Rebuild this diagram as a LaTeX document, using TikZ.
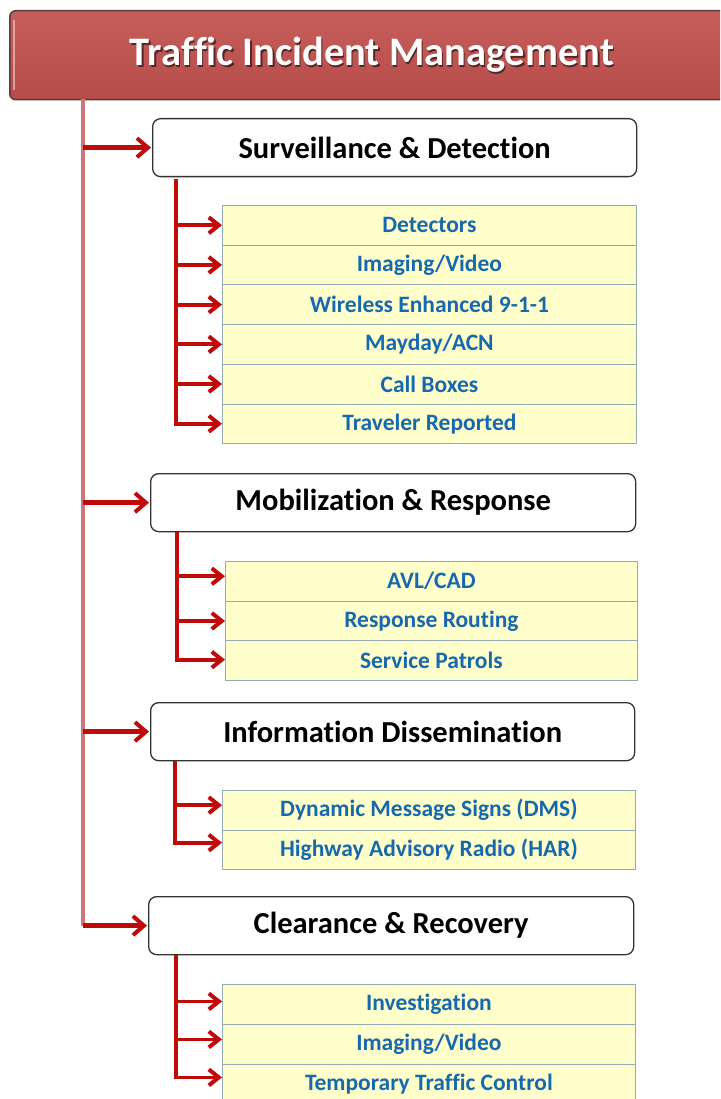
\documentclass[tikz,border=0pt]{standalone}
\usepackage{fontspec}
\setmainfont[Ligatures=NoCommon]{Carlito}
\usetikzlibrary{arrows.meta,positioning}
\definecolor{titlered}{RGB}{192,80,77}
\definecolor{titleedge}{RGB}{90,60,60}
\definecolor{mainline}{RGB}{205,118,124}
\definecolor{arrred}{RGB}{192,10,10}
\definecolor{rowfill}{RGB}{255,255,204}
\definecolor{rowedge}{RGB}{150,170,180}
\definecolor{rowtext}{RGB}{23,105,175}
\tikzset{
  x=1pt,y=1pt,
  titlebox/.style={draw=titleedge,line width=1.5pt,rounded corners=6pt,top color=titlered!92!white,bottom color=titlered!95!black,anchor=north west,minimum width=740pt,minimum height=89pt,inner sep=0pt},
  catbox/.style={draw=black!80,line width=1.3pt,fill=white,rounded corners=8pt,anchor=north west,minimum height=58pt,inner sep=0pt,font=\fontsize{30.5}{34}\selectfont\bfseries},
  rowbox/.style={draw=rowedge,line width=0.8pt,fill=rowfill,anchor=north west,inner sep=0pt,font=\fontsize{23.5}{26}\selectfont\bfseries,text=rowtext},
  mainarr/.style={draw=arrred,line width=4.6pt,-{Straight Barb[length=11pt,width=19pt,line width=4pt]}},
  subarr/.style={draw=arrred,line width=3.8pt,-{Straight Barb[length=10pt,width=16pt,line width=4pt]}},
  mainspine/.style={draw=mainline,line width=3.5pt},
}
\begin{document}
\begin{tikzpicture}
\useasboundingbox (0,0) rectangle (720,-1099);
\clip (0,0) rectangle (720,-1099);
% title
\node[titlebox] (title) at (9,-10) {};
\draw[white,opacity=0.45,line width=2pt] (14,-20) -- (14,-90);
\node[text=black,opacity=0.55,font=\fontsize{40.5}{44}\selectfont\bfseries] at (373.5,-56.5) {Traffic Incident Management};
\node[text=white,font=\fontsize{40.5}{44}\selectfont\bfseries] (ttext) at (372,-55) {Traffic Incident Management};
% main spine
\coordinate (m0) at (83,-99);
% categories
\node[catbox,minimum width=484pt] (c1) at (152,-118) {Surveillance \& Detection};
\node[catbox,minimum width=485pt] (c2) at (150,-473) {Mobilization \& Response};
\node[catbox,minimum width=484pt] (c3) at (150,-702) {Information Dissemination};
\node[catbox,minimum width=485pt] (c4) at (148,-896) {Clearance \& Recovery};
\draw[mainspine] (m0) -- (m0 |- c4.west);
\foreach \c in {c1,c2,c3,c4} { \draw[mainarr] (m0 |- \c.west) -- ([xshift=-1pt]\c.west); }
% group 1
\foreach \t [count=\i] in {Detectors,Imaging/Video,Wireless Enhanced 9-1-1,Mayday/ACN,Call Boxes,Traveler Reported} {
  \node[rowbox,minimum width=414pt,minimum height=39.7pt] (r1\i) at (222,{-205-39.7*(\i-1)}) {\t};
}
\coordinate (s1) at (176,-179);
\foreach \i in {1,...,5} { \draw[subarr] (s1 |- r1\i.west) -- (r1\i.west); }
\draw[subarr] (s1) |- (r16.west);
% group 2
\foreach \t [count=\i] in {AVL/CAD,Response Routing,Service Patrols} {
  \node[rowbox,minimum width=412pt,minimum height=39.7pt] (r2\i) at (225,{-561-39.7*(\i-1)}) {\t};
}
\coordinate (s2) at (177,-532);
\draw[subarr] (s2 |- r21.west) ++(0,5) -- ([yshift=5pt]r21.west);
\draw[subarr] (s2 |- r22.west) -- (r22.west);
\draw[subarr] (s2) |- ([yshift=1pt]r23.west);
% group 3
\foreach \t [count=\i] in {Dynamic Message Signs (DMS),Highway Advisory Radio (HAR)} {
  \node[rowbox,minimum width=413pt,minimum height=39.5pt] (r3\i) at (222,{-790-39.5*(\i-1)}) {\t};
}
\coordinate (s3) at (175,-761);
\draw[subarr] (s3 |- r31.west) ++(0,5) -- ([yshift=5pt]r31.west);
\draw[subarr] (s3) |- ([yshift=7pt]r32.west);
% group 4
\foreach \t [count=\i] in {Investigation,Imaging/Video,Temporary Traffic Control} {
  \node[rowbox,minimum width=413pt,minimum height=40pt] (r4\i) at (222,{-984-40*(\i-1)}) {\t};
}
\coordinate (s4) at (176,-955);
\draw[subarr] (s4 |- r41.west) ++(0,3) -- ([yshift=3pt]r41.west);
\draw[subarr] (s4 |- r42.west) ++(0,5) -- ([yshift=5pt]r42.west);
\draw[subarr] (s4) |- ([yshift=7pt]r43.west);
\end{tikzpicture}
\end{document}
